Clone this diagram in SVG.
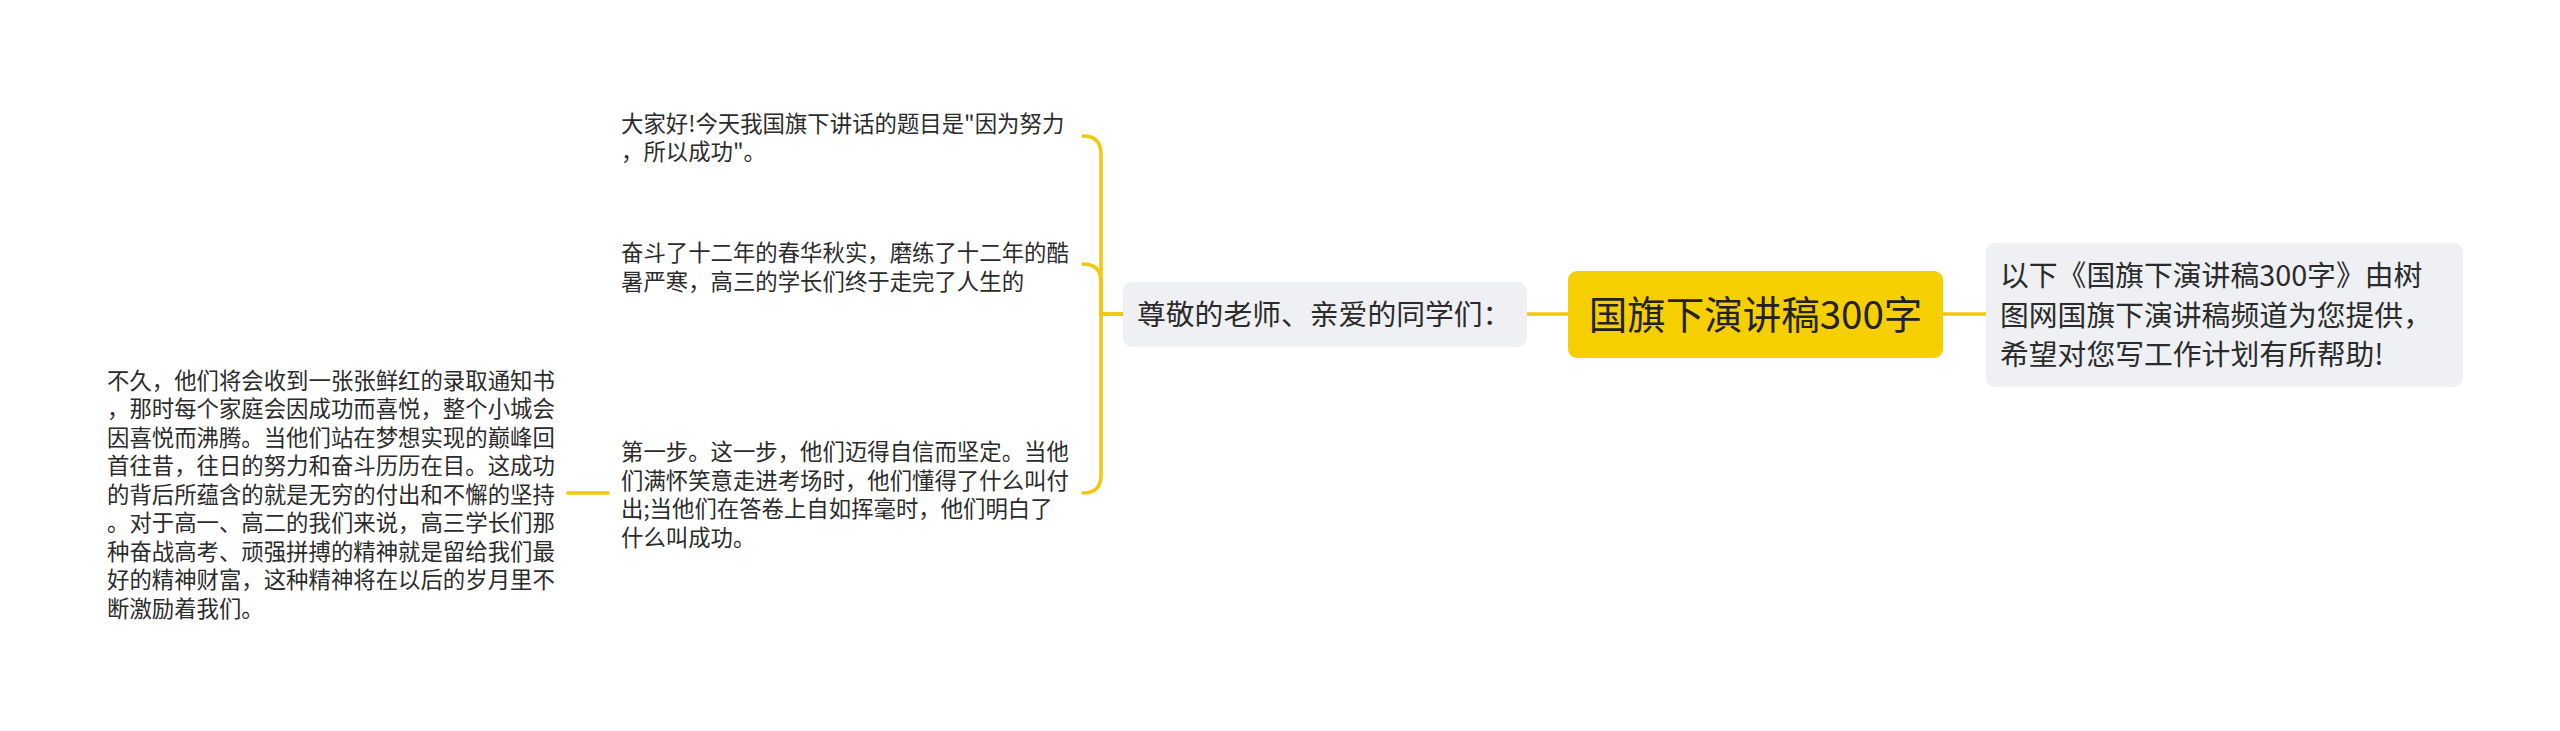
<svg xmlns="http://www.w3.org/2000/svg" width="2560" height="731" viewBox="0 0 2560 731">
<style>
text { font-family: "Noto Sans CJK SC", "Noto Sans", sans-serif; fill: #2b2b2b; }
.leaf { font-size: 22.4px; }
.mid { font-size: 28.8px; }
.root { font-size: 38.5px; fill: #222; }
.box { fill: #eef0f3; }
.rootbox { fill: #f6cf00; }
.edge { fill: none; stroke: #f2c80f; stroke-width: 3.5; stroke-linecap: round; }
</style>
<rect width="2560" height="731" fill="#ffffff"/>
<g id="connectors">
  <path class="edge" d="M1943 314 H1986"/>
  <path class="edge" d="M1568 314 H1527"/>
  <path class="edge" d="M1123 314 H1101 V154 Q1101 136 1083 136"/>
  <path class="edge" d="M1123 314 H1101 V282 Q1101 264 1083 264"/>
  <path class="edge" d="M1123 314 H1101 V475 Q1101 493 1083 493"/>
  <path class="edge" d="M608 493 H568"/>
</g>
<g id="node-root">
  <rect class="rootbox" x="1568" y="271" width="375" height="87" rx="9"/>
  <text class="root" x="1755.5" y="328.5" text-anchor="middle">国旗下演讲稿300字</text>
</g>
<g id="node-intro">
  <rect class="box" x="1986" y="243" width="477" height="144" rx="9"/>
  <text class="mid" x="2000" y="286">以下《国旗下演讲稿300字》由树</text>
  <text class="mid" x="2000" y="325.5">图网国旗下演讲稿频道为您提供，</text>
  <text class="mid" x="2000" y="365">希望对您写工作计划有所帮助!</text>
</g>
<g id="node-greeting">
  <rect class="box" x="1123" y="282" width="404" height="65" rx="9"/>
  <text class="mid" x="1137" y="325">尊敬的老师、亲爱的同学们：</text>
</g>
<g id="node-leaf1">
  <text class="leaf" x="621" y="131.5">大家好!今天我国旗下讲话的题目是"因为努力</text>
  <text class="leaf" x="621" y="160">，所以成功"。</text>
</g>
<g id="node-leaf2">
  <text class="leaf" x="621" y="261">奋斗了十二年的春华秋实，磨练了十二年的酷</text>
  <text class="leaf" x="621" y="289.5">暑严寒，高三的学长们终于走完了人生的</text>
</g>
<g id="node-leaf3">
  <text class="leaf" x="621" y="460">第一步。这一步，他们迈得自信而坚定。当他</text>
  <text class="leaf" x="621" y="488.5">们满怀笑意走进考场时，他们懂得了什么叫付</text>
  <text class="leaf" x="621" y="517">出;当他们在答卷上自如挥毫时，他们明白了</text>
  <text class="leaf" x="621" y="545.5">什么叫成功。</text>
</g>
<g id="node-leaf4">
  <text class="leaf" x="107" y="388.5">不久，他们将会收到一张张鲜红的录取通知书</text>
  <text class="leaf" x="107" y="417">，那时每个家庭会因成功而喜悦，整个小城会</text>
  <text class="leaf" x="107" y="445.5">因喜悦而沸腾。当他们站在梦想实现的巅峰回</text>
  <text class="leaf" x="107" y="474">首往昔，往日的努力和奋斗历历在目。这成功</text>
  <text class="leaf" x="107" y="502.5">的背后所蕴含的就是无穷的付出和不懈的坚持</text>
  <text class="leaf" x="107" y="531">。对于高一、高二的我们来说，高三学长们那</text>
  <text class="leaf" x="107" y="559.5">种奋战高考、顽强拼搏的精神就是留给我们最</text>
  <text class="leaf" x="107" y="588">好的精神财富，这种精神将在以后的岁月里不</text>
  <text class="leaf" x="107" y="616.5">断激励着我们。</text>
</g>
</svg>
